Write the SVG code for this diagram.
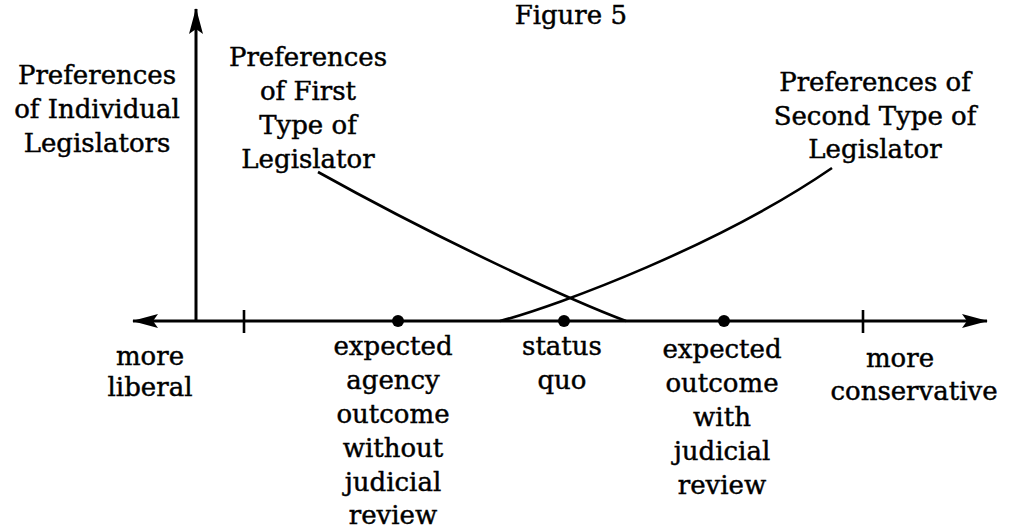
<svg xmlns="http://www.w3.org/2000/svg" width="1018" height="529" viewBox="0 0 1018 529">
<style>
text{font-family:"DejaVu Serif","Liberation Serif",serif;font-size:26px;fill:#000;stroke:#000;stroke-width:0.45;text-anchor:middle}
.ax{stroke:#000;stroke-width:3;fill:none}
.cv{stroke:#000;stroke-width:2.6;fill:none}
.tk{stroke:#000;stroke-width:2.6}
</style>
<defs>
<marker id="ah" viewBox="0 0 26 14" refX="25" refY="7" markerWidth="26" markerHeight="14" markerUnits="userSpaceOnUse" orient="auto">
<path d="M0,0 L26,7 L0,14 L5,7 Z" fill="#000"/>
</marker>
</defs>
<text x="627" y="24" style="text-anchor:end">Figure 5</text>
<g id="axes">
<line class="ax" x1="196" y1="321" x2="196" y2="9" marker-end="url(#ah)"/>
<line class="ax" x1="196" y1="321" x2="133" y2="321" marker-end="url(#ah)"/>
<line class="ax" x1="196" y1="321" x2="987" y2="321" marker-end="url(#ah)"/>
<line class="tk" x1="244" y1="310" x2="244" y2="333"/>
<line class="tk" x1="863" y1="310" x2="863" y2="333"/>
</g>
<g id="connectors">
<path class="cv" d="M318,172 C440,240 570,300 626,321"/>
<path class="cv" d="M500,321 C560,305 720,245 832,168"/>
</g>
<g id="y-label">
<text x="97" y="84">Preferences</text>
<text x="97" y="118">of Individual</text>
<text x="97" y="152">Legislators</text>
</g>
<g id="first-type">
<text x="308" y="66">Preferences</text>
<text x="308" y="100">of First</text>
<text x="308" y="134">Type of</text>
<text x="308" y="168">Legislator</text>
</g>
<g id="second-type">
<text x="875" y="91">Preferences of</text>
<text x="875" y="125">Second Type of</text>
<text x="875" y="158">Legislator</text>
</g>
<g id="more-liberal">
<text x="150" y="365">more</text>
<text x="150" y="396">liberal</text>
</g>
<g id="agency-outcome">
<circle cx="398" cy="321" r="6"/>
<text x="393" y="355">expected</text>
<text x="393" y="389">agency</text>
<text x="393" y="423">outcome</text>
<text x="393" y="457">without</text>
<text x="393" y="491">judicial</text>
<text x="393" y="524">review</text>
</g>
<g id="status-quo">
<circle cx="564" cy="321" r="6"/>
<text x="562" y="355">status</text>
<text x="562" y="389">quo</text>
</g>
<g id="judicial-outcome">
<circle cx="724" cy="321" r="6"/>
<text x="722" y="358">expected</text>
<text x="722" y="392">outcome</text>
<text x="722" y="426">with</text>
<text x="722" y="460">judicial</text>
<text x="722" y="494">review</text>
</g>
<g id="more-conservative">
<text x="900" y="367">more</text>
<text x="914" y="400">conservative</text>
</g>
</svg>
